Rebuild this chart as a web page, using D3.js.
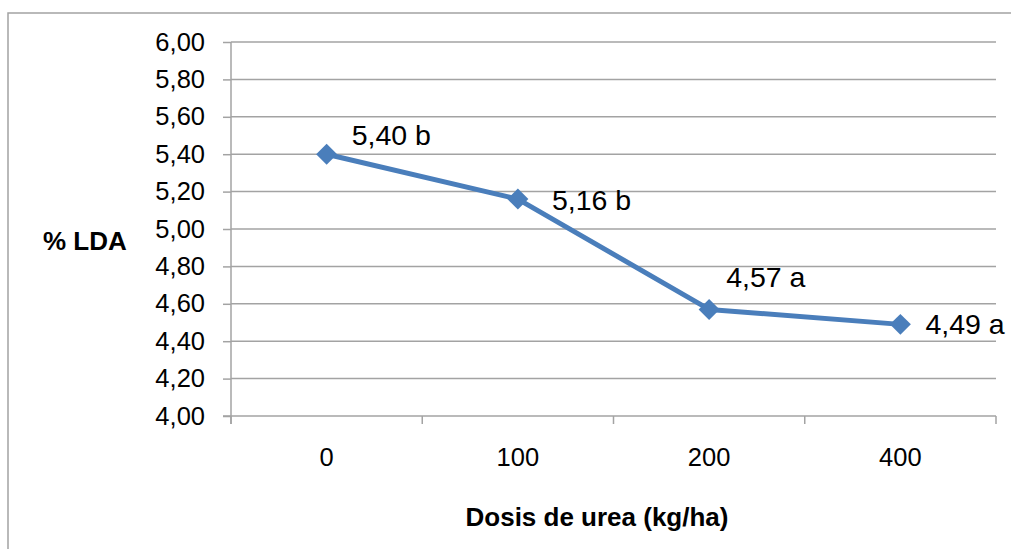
<!DOCTYPE html>
<html>
<head>
<meta charset="utf-8">
<script src="https://cdn.jsdelivr.net/npm/d3@7/dist/d3.min.js"></script>
<style>
  html, body { margin: 0; padding: 0; background: #ffffff; }
  svg { display: block; }
  text { font-family: "Liberation Sans", Arial, sans-serif; fill: #000; }
</style>
</head>
<body>
<svg id="chart" width="1011" height="549"></svg>
<script>
// Urea dose (kg/ha) and mean % LDA with significance letters
const doses = ["0", "100", "200", "400"];
const ldaValues = [5.40, 5.16, 4.57, 4.49];
const groupLetters = ["b", "b", "a", "a"];
const yTicks = [4.00, 4.20, 4.40, 4.60, 4.80, 5.00, 5.20, 5.40, 5.60, 5.80, 6.00];

const yTitle = "% LDA";
const xTitle = "Dosis de urea (kg/ha)";

const svg = d3.select("#chart");
const W = 1011, H = 549;
const plot = { left: 231, right: 996, top: 42, bottom: 416 };
const gridColor = "#a3a3a3";
const lineColor = "#4a7ebb";

const fmt = v => d3.format(".2f")(v).replace(".", ",");

// outer chart frame (runs off the right and bottom edges)
svg.append("rect")
  .attr("x", 8).attr("y", 13)
  .attr("width", W + 10).attr("height", H + 10)
  .attr("fill", "#fff")
  .attr("stroke", gridColor).attr("stroke-width", 1.5);

const x = d3.scaleBand().domain(doses).range([plot.left, plot.right]).padding(0);
const y = d3.scaleLinear().domain([4, 6]).range([plot.bottom, plot.top]);

// horizontal gridlines
svg.append("g")
  .selectAll("line")
  .data(yTicks.slice(1))
  .join("line")
  .attr("x1", plot.left).attr("x2", plot.right)
  .attr("y1", d => y(d)).attr("y2", d => y(d))
  .attr("stroke", gridColor).attr("stroke-width", 1.5);

// value axis
const yAxis = svg.append("g")
  .attr("transform", `translate(${plot.left},0)`)
  .call(d3.axisLeft(y).tickValues(yTicks).tickFormat(fmt).tickSize(8).tickPadding(18));
yAxis.select(".domain").attr("stroke", gridColor).attr("stroke-width", 1.5)
  .attr("d", `M0,${plot.top}V${plot.bottom + 8}`);
yAxis.selectAll(".tick line").attr("stroke", gridColor).attr("stroke-width", 1.5);
yAxis.selectAll(".tick text")
  .style("font-family", "'Liberation Sans', Arial, sans-serif")
  .style("font-size", "25.5px").attr("fill", "#000");

// category axis: line, tick marks between categories, centred labels
const xAxis = svg.append("g").attr("transform", `translate(0,${plot.bottom})`);
xAxis.append("line")
  .attr("x1", plot.left - 8).attr("x2", plot.right)
  .attr("stroke", gridColor).attr("stroke-width", 1.5);
const boundaries = doses.map(d => x(d)).concat([x.range()[1]]);
xAxis.selectAll("line.tk")
  .data(boundaries)
  .join("line")
  .attr("class", "tk")
  .attr("x1", d => d).attr("x2", d => d)
  .attr("y1", 0).attr("y2", 8)
  .attr("stroke", gridColor).attr("stroke-width", 1.5);
xAxis.selectAll("text")
  .data(doses)
  .join("text")
  .attr("x", d => x(d) + x.bandwidth() / 2)
  .attr("y", 50)
  .attr("text-anchor", "middle")
  .style("font-size", "25.5px")
  .text(d => d);

// axis titles
svg.append("text")
  .attr("x", 43).attr("y", 250)
  .style("font-size", "26px").style("font-weight", "bold")
  .text(yTitle);
svg.append("text")
  .attr("x", 597).attr("y", 526)
  .attr("text-anchor", "middle")
  .style("font-size", "26px").style("font-weight", "bold")
  .text(xTitle);

// series line
const pts = doses.map((d, i) => ({ dose: d, v: ldaValues[i], g: groupLetters[i] }));
const cx = d => x(d.dose) + x.bandwidth() / 2;
svg.append("path")
  .datum(pts)
  .attr("fill", "none")
  .attr("stroke", lineColor)
  .attr("stroke-width", 5)
  .attr("stroke-linejoin", "round")
  .attr("d", d3.line().x(cx).y(d => y(d.v)));

// diamond markers
svg.append("g")
  .selectAll("path")
  .data(pts)
  .join("path")
  .attr("transform", d => `translate(${cx(d)},${y(d.v)}) rotate(45)`)
  .attr("d", d3.symbol().type(d3.symbolSquare).size(220))
  .attr("fill", lineColor);

// value labels with group letters
const labelOffsets = [[25, -9], [34, 11], [17, -22], [25, 10]];
svg.append("g")
  .selectAll("text")
  .data(pts)
  .join("text")
  .attr("x", (d, i) => cx(d) + labelOffsets[i][0])
  .attr("y", (d, i) => y(d.v) + labelOffsets[i][1])
  .style("font-size", "28.5px")
  .text(d => `${fmt(d.v)} ${d.g}`);
</script>
</body>
</html>
